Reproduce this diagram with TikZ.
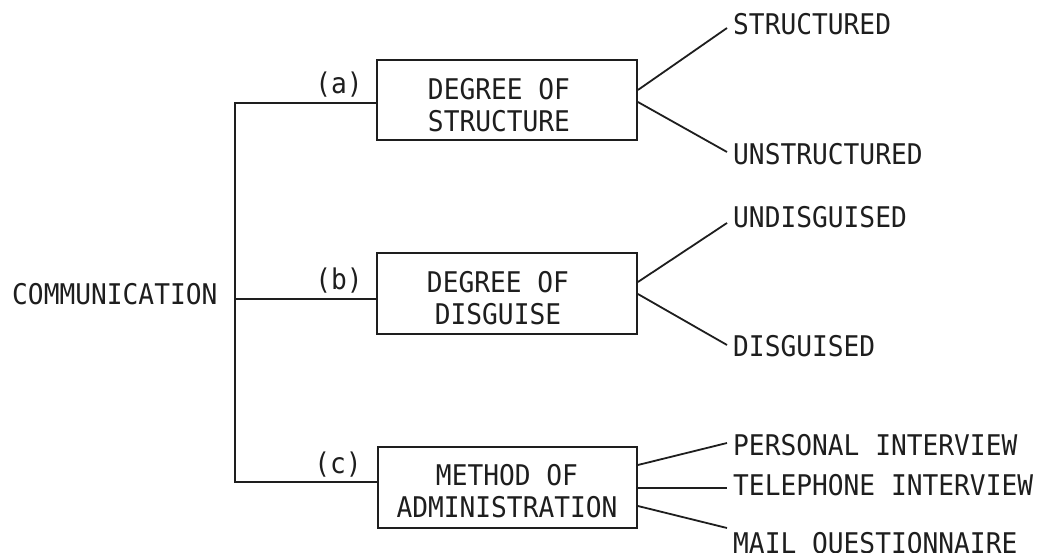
\documentclass[tikz,border=0pt]{standalone}
\usepackage{fontspec}
\newfontfamily\typefont[FakeStretch=0.92]{DejaVu Sans Mono}
\definecolor{ink}{RGB}{30,30,30}
\begin{document}
\begin{tikzpicture}[x=1pt,y=-1pt,
  every node/.style={font={\typefont\fontsize{28.5}{32}\selectfont}, text=ink, inner sep=0pt},
  frame/.style={draw=ink, line width=1.8pt, minimum width=260pt, minimum height=80pt},
  boxtext/.style={align=center},
  leaf/.style={anchor=base west, inner xsep=6pt, text height=21pt, text depth=0pt},
  wire/.style={draw=ink, line width=1.8pt}
]
\useasboundingbox[fill=white] (0,0) rectangle (1050,553);

% root label
\node[anchor=base west] (comm) at (12,305) {COMMUNICATION};

% the three classification boxes
\node[frame] (boxa) at (507,100) {};
\node[frame, minimum height=81pt] (boxb) at (507,293.5) {};
\node[frame, minimum width=259pt, minimum height=81pt] (boxc) at (507.5,487.5) {};
\node[boxtext] (ta) at (499,105) {DEGREE OF\\STRUCTURE};
\node[boxtext] (tb) at (498,298.5) {DEGREE OF\\DISGUISE};
\node[boxtext] (tc) at (507,491.5) {METHOD OF\\ADMINISTRATION};

% branch labels
\node (la) at (339,85) {(a)};
\node (lb) at (339,281) {(b)};
\node (lc) at (338,465) {(c)};

% bracket joining the branches
\coordinate (ja) at (235,103);
\coordinate (jb) at (235,299);
\coordinate (jc) at (235,482);
\draw[wire] (ja -| boxa.west) -- (ja) -- (jc) -- (jc -| boxc.west);
\draw[wire] (jb) -- (jb -| boxb.west);

% leaves
\node[leaf] (s1) at (727,35) {STRUCTURED};
\node[leaf] (s2) at (727,165) {UNSTRUCTURED};
\node[leaf] (d1) at (727,228) {UNDISGUISED};
\node[leaf] (d2) at (727,357) {DISGUISED};
\node[leaf] (m1) at (727,455) {PERSONAL INTERVIEW};
\node[leaf] (m2) at (727,495) {TELEPHONE INTERVIEW};
\node[leaf] (m3) at (727,553) {MAIL QUESTIONNAIRE};

% fan-out lines
\draw[wire] ([yshift=10pt]boxa.east) -- ([yshift=-3.5pt]s1.west);
\draw[wire] ([yshift=-2pt]boxa.east) -- ([yshift=2.5pt]s2.west);
\draw[wire] ([yshift=11.5pt]boxb.east) -- ([yshift=-5.5pt]d1.west);
\draw[wire] ([yshift=-0.5pt]boxb.east) -- ([yshift=1.5pt]d2.west);
\draw[wire] ([yshift=22.5pt]boxc.east) -- ([yshift=1.5pt]m1.west);
\draw[wire] ([yshift=-0.5pt]boxc.east) -- ([yshift=-3.5pt]m2.west);
\draw[wire] ([yshift=-18.5pt]boxc.east) -- ([yshift=14.5pt]m3.west);
\end{tikzpicture}
\end{document}
